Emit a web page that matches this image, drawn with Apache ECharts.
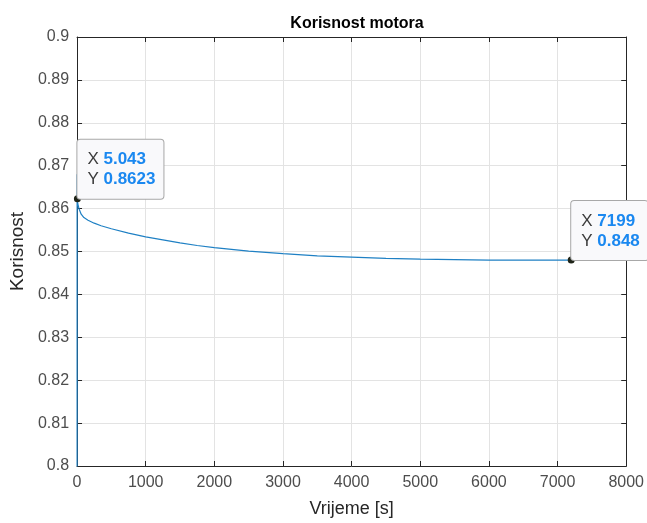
<!DOCTYPE html>
<html lang="en" style="height: 100%">
<head>
  <meta charset="utf-8" />
</head>
<body style="height: 100%; margin: 0; background: #fff">
  <div id="container" style="width: 647px; height: 523px;"></div>
  <script src="https://cdn.jsdelivr.net/npm/echarts@6/dist/echarts.min.js"></script>
  <script>
    // vrijeme [s] i korisnost motora, ocitano s grafa
    var vrijeme = [0, 1, 5.043, 10, 30, 60, 100, 160, 250, 350, 500, 750, 1000, 1250, 1500, 1750, 2000, 2500, 3000, 3500, 4000, 4500, 5000, 5500, 6000, 6500, 7199];
    var korisnost = [0.5, 0.868, 0.8623, 0.8612, 0.8599, 0.8587, 0.8579, 0.8573, 0.8566, 0.856, 0.8553, 0.8543, 0.8534, 0.8527, 0.852, 0.8514, 0.8509, 0.8501, 0.8495, 0.849, 0.8487, 0.8484, 0.8482, 0.8481, 0.848, 0.848, 0.848];
    // podatkovni savjeti (data tips)
    var tipX = [5.043, 7199];
    var tipY = [0.8623, 0.848];

    var font = "'Liberation Sans', Arial, sans-serif";
    var chart = echarts.init(document.getElementById('container'), null, { renderer: 'canvas' });

    var tipStyle = {
      show: true,
      position: [3.5, 3.5],
      align: 'left',
      verticalAlign: 'bottom',
      backgroundColor: '#f9f9fb',
      borderColor: '#a8a8a8',
      borderWidth: 1,
      borderRadius: 3,
      padding: [10, 8, 9, 10],
      fontFamily: font,
      lineHeight: 20,
      rich: {
        k: { color: '#3c3c3c', fontSize: 17, fontFamily: font, lineHeight: 20 },
        v: { color: '#1a88f0', fontSize: 17, fontWeight: 'bold', fontFamily: font, lineHeight: 20 }
      },
      formatter: function (p) {
        return '{k|X }{v|' + p.data.tx + '}\n{k|Y }{v|' + p.data.ty + '}';
      }
    };

    var option = {
      animation: false,
      title: {
        text: 'Korisnost motora',
        left: 352,
        textAlign: 'center',
        top: 11,
        textStyle: { fontFamily: font, fontSize: 16, fontWeight: 'bold', color: '#000' }
      },
      grid: { left: 76, right: 19, top: 37, bottom: 56, containLabel: false },
      xAxis: [
        {
          type: 'value', min: 0, max: 8000, interval: 1000, position: 'bottom',
          name: 'Vrijeme [s]', nameLocation: 'middle', nameGap: 34,
          nameTextStyle: { fontFamily: font, fontSize: 18, color: '#262626' },
          axisLine: { show: true, onZero: false, lineStyle: { color: '#262626', width: 1 } },
          axisTick: { show: true, inside: true, length: 5, lineStyle: { color: '#262626' } },
          axisLabel: {
            fontFamily: font, fontSize: 16, color: '#4d4d4d', margin: 9,
            formatter: function (v) { return String(v); }
          },
          splitLine: { show: true, lineStyle: { color: '#e3e3e3', width: 1 } }
        },
        {
          type: 'value', min: 0, max: 8000, interval: 1000, position: 'top',
          axisLine: { show: true, onZero: false, lineStyle: { color: '#262626', width: 1 } },
          axisTick: { show: true, inside: true, length: 5, lineStyle: { color: '#262626' } },
          axisLabel: { show: false },
          splitLine: { show: false }
        }
      ],
      yAxis: [
        {
          type: 'value', min: 0.8, max: 0.9, interval: 0.01, position: 'left',
          name: 'Korisnost', nameLocation: 'middle', nameGap: 46, nameRotate: 90,
          nameTextStyle: { fontFamily: font, fontSize: 19, color: '#262626' },
          axisLine: { show: true, onZero: false, lineStyle: { color: '#262626', width: 1 } },
          axisTick: { show: true, inside: true, length: 5, lineStyle: { color: '#262626' } },
          axisLabel: {
            fontFamily: font, fontSize: 16, color: '#4d4d4d', margin: 8,
            formatter: function (v) { return String(+v.toFixed(2)); }
          },
          splitLine: { show: true, lineStyle: { color: '#e3e3e3', width: 1 } }
        },
        {
          type: 'value', min: 0.8, max: 0.9, interval: 0.01, position: 'right',
          axisLine: { show: true, onZero: false, lineStyle: { color: '#262626', width: 1 } },
          axisTick: { show: true, inside: true, length: 5, lineStyle: { color: '#262626' } },
          axisLabel: { show: false },
          splitLine: { show: false }
        }
      ],
      series: [
        {
          type: 'line',
          xAxisIndex: 0,
          yAxisIndex: 0,
          data: vrijeme.map(function (t, i) { return [t, korisnost[i]]; }),
          showSymbol: false,
          smooth: false,
          clip: true,
          lineStyle: { color: '#1f80c4', width: 1.2 },
          markPoint: {
            symbol: 'circle',
            symbolSize: 7,
            itemStyle: { color: '#1f2418' },
            label: tipStyle,
            data: tipX.map(function (x, i) {
              return { coord: [x, tipY[i]], tx: String(x), ty: String(tipY[i]) };
            })
          }
        }
      ]
    };

    chart.setOption(option);
  </script>
</body>
</html>
